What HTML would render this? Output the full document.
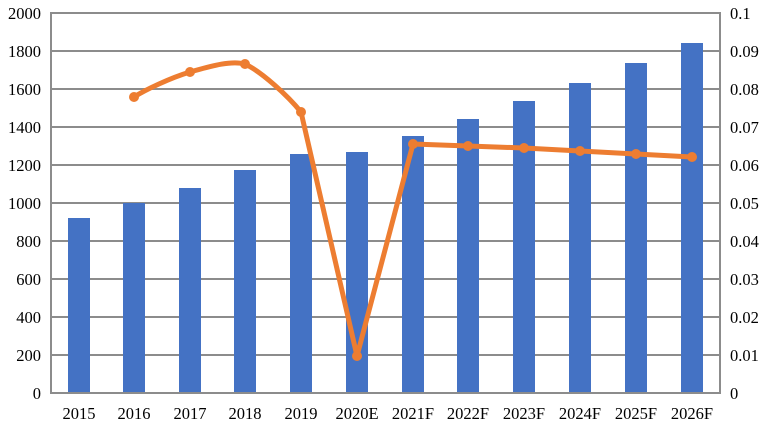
<!DOCTYPE html>
<html><head><meta charset="utf-8"><style>
html,body{margin:0;padding:0;background:#fff;}
svg{display:block;}
text{font-family:"Liberation Serif",serif;font-size:16.5px;fill:#000;}
</style></head><body>
<svg width="770" height="433" viewBox="0 0 770 433">
<g stroke="#8c8c8c" stroke-width="2">
<line x1="51" y1="13" x2="720" y2="13"/>
<line x1="51" y1="51" x2="720" y2="51"/>
<line x1="51" y1="89" x2="720" y2="89"/>
<line x1="51" y1="127" x2="720" y2="127"/>
<line x1="51" y1="165" x2="720" y2="165"/>
<line x1="51" y1="203" x2="720" y2="203"/>
<line x1="51" y1="241" x2="720" y2="241"/>
<line x1="51" y1="279" x2="720" y2="279"/>
<line x1="51" y1="317" x2="720" y2="317"/>
<line x1="51" y1="355" x2="720" y2="355"/>
</g>
<g fill="#4472c4">
<rect x="68" y="218" width="22" height="175"/>
<rect x="123" y="203" width="22" height="190"/>
<rect x="179" y="188" width="22" height="205"/>
<rect x="234" y="170" width="22" height="223"/>
<rect x="290" y="154" width="22" height="239"/>
<rect x="346" y="152" width="22" height="241"/>
<rect x="402" y="136" width="22" height="257"/>
<rect x="457" y="119" width="22" height="274"/>
<rect x="513" y="101" width="22" height="292"/>
<rect x="569" y="83" width="22" height="310"/>
<rect x="625" y="63" width="22" height="330"/>
<rect x="681" y="43" width="22" height="350"/>
</g>
<g stroke="#8c8c8c" stroke-width="2">
<line x1="51" y1="12" x2="51" y2="394"/>
<line x1="720" y1="12" x2="720" y2="394"/>
<line x1="50" y1="393" x2="721" y2="393"/>
</g>
<path d="M134,97 C145,90 170,78 190,72 C208,67 230,60 245,64 C262,72 288,96 301,112 L357,356 L413,144 L468,146 L524,148 L580,151 L636,154 L692,157" fill="none" stroke="#ed7d31" stroke-width="5" stroke-linejoin="round"/>
<g fill="#ed7d31">
<circle cx="134" cy="97" r="5"/><circle cx="190" cy="72" r="5"/><circle cx="245" cy="64" r="5"/>
<circle cx="301" cy="112" r="5"/><circle cx="357" cy="356" r="5"/><circle cx="413" cy="144" r="5"/>
<circle cx="468" cy="146" r="5"/><circle cx="524" cy="148" r="5"/><circle cx="580" cy="151" r="5"/>
<circle cx="636" cy="154" r="5"/><circle cx="692" cy="157" r="5"/>
</g>
<g text-anchor="end">
<text x="41" y="19">2000</text><text x="41" y="57">1800</text><text x="41" y="95">1600</text>
<text x="41" y="133">1400</text><text x="41" y="171">1200</text><text x="41" y="209">1000</text>
<text x="41" y="247">800</text><text x="41" y="285">600</text><text x="41" y="323">400</text>
<text x="41" y="361">200</text><text x="41" y="399">0</text>
</g>
<g text-anchor="start">
<text x="730" y="19">0.1</text><text x="730" y="57">0.09</text><text x="730" y="95">0.08</text>
<text x="730" y="133">0.07</text><text x="730" y="171">0.06</text><text x="730" y="209">0.05</text>
<text x="730" y="247">0.04</text><text x="730" y="285">0.03</text><text x="730" y="323">0.02</text>
<text x="730" y="361">0.01</text><text x="730" y="399">0</text>
</g>
<g text-anchor="middle">
<text x="79" y="419">2015</text><text x="134" y="419">2016</text><text x="190" y="419">2017</text>
<text x="245" y="419">2018</text><text x="301" y="419">2019</text><text x="357" y="419">2020E</text>
<text x="413" y="419">2021F</text><text x="468" y="419">2022F</text><text x="524" y="419">2023F</text>
<text x="580" y="419">2024F</text><text x="636" y="419">2025F</text><text x="692" y="419">2026F</text>
</g>
</svg>
</body></html>
